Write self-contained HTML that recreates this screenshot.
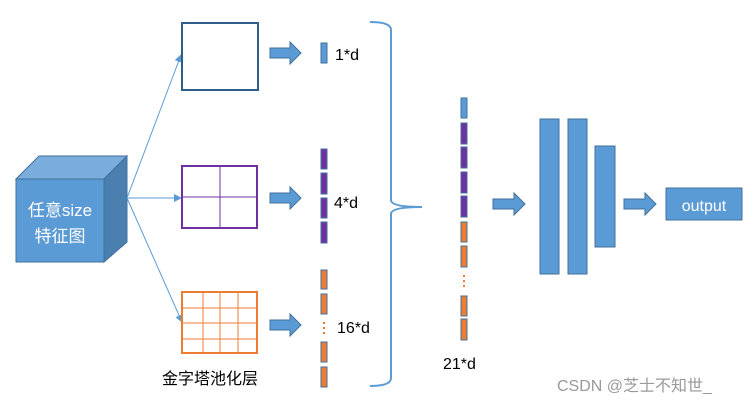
<!DOCTYPE html>
<html><head><meta charset="utf-8"><style>
html,body{margin:0;padding:0;background:#fff;}
svg{display:block;font-family:"Liberation Sans","Noto Sans CJK SC",sans-serif;}
</style></head><body>
<svg width="754" height="403" viewBox="0 0 754 403" xmlns="http://www.w3.org/2000/svg">
<defs>
<marker id="ah" markerWidth="8" markerHeight="8" refX="7" refY="4" orient="auto" markerUnits="userSpaceOnUse">
<path d="M0,0 L8,4 L0,8 z" fill="#5b9bd5"/></marker>
</defs>
<!-- cube -->
<polygon points="16,179 39,156 127,156 104,179" fill="#7aacdc" stroke="#41719c" stroke-width="1"/>
<polygon points="104,179 127,156 127,242 104,262" fill="#4a7fb0" stroke="#41719c" stroke-width="1"/>
<rect x="16" y="179" width="88" height="83" fill="#5b9bd5" stroke="#41719c" stroke-width="1"/>
<text x="60" y="216" font-size="17" fill="#fff" text-anchor="middle">任意size</text>
<text x="60" y="242" font-size="17" fill="#fff" text-anchor="middle">特征图</text>
<!-- connectors -->
<line x1="127" y1="198" x2="181" y2="55" stroke="#5b9bd5" stroke-width="1" marker-end="url(#ah)"/>
<line x1="127" y1="198" x2="181" y2="198" stroke="#5b9bd5" stroke-width="1" marker-end="url(#ah)"/>
<line x1="127" y1="198" x2="182" y2="322" stroke="#5b9bd5" stroke-width="1" marker-end="url(#ah)"/>
<!-- boxes -->
<rect x="182" y="23" width="76" height="67" fill="#fff" stroke="#2e5f8a" stroke-width="2"/>
<rect x="182" y="166" width="75" height="62" fill="#fff" stroke="#7030a0" stroke-width="2"/>
<line x1="220" y1="166" x2="220" y2="228" stroke="#7030a0" stroke-width="1"/>
<line x1="182" y1="197" x2="257" y2="197" stroke="#7030a0" stroke-width="1"/>
<rect x="182" y="292" width="75" height="61" fill="#fff" stroke="#ed7d31" stroke-width="2"/>
<g stroke="#ed7d31" stroke-width="1">
<line x1="203" y1="292" x2="203" y2="353"/><line x1="220" y1="292" x2="220" y2="353"/><line x1="238" y1="292" x2="238" y2="353"/>
<line x1="182" y1="308" x2="257" y2="308"/><line x1="182" y1="323" x2="257" y2="323"/><line x1="182" y1="339" x2="257" y2="339"/>
</g>
<text x="162" y="384" font-size="16" fill="#000">金字塔池化层</text>
<!-- block arrows -->
<g fill="#5b9bd5" stroke="#41719c" stroke-width="1">
<polygon points="270,48 290,48 290,42 301,53 290,64 290,58 270,58"/>
<polygon points="270,193 290,193 290,187 301,198 290,209 290,203 270,203"/>
<polygon points="270,320 290,320 290,314 301,325 290,336 290,330 270,330"/>
<polygon points="493,199 514,199 514,193 525,204 514,215 514,209 493,209"/>
<polygon points="624,199 645,199 645,193 656,204 645,215 645,209 624,209"/>
</g>
<!-- vectors left -->
<g stroke="#41719c" stroke-width="1">
<rect x="321" y="43" width="6" height="20" fill="#5b9bd5"/>
<rect x="321" y="149" width="6" height="20" fill="#7030a0"/>
<rect x="321" y="173" width="6" height="21" fill="#7030a0"/>
<rect x="321" y="198" width="6" height="20" fill="#7030a0"/>
<rect x="321" y="222" width="6" height="21" fill="#7030a0"/>
<rect x="321" y="270" width="6" height="19" fill="#ed7d31"/>
<rect x="321" y="294" width="6" height="20" fill="#ed7d31"/>
<rect x="321" y="342" width="6" height="20" fill="#ed7d31"/>
<rect x="321" y="367" width="6" height="20" fill="#ed7d31"/>
</g>
<line x1="324" y1="322" x2="324" y2="336" stroke="#ed7d31" stroke-width="2" stroke-dasharray="2,3"/>
<text x="335" y="60" font-size="16" fill="#000">1*d</text>
<text x="334" y="208" font-size="16" fill="#000">4*d</text>
<text x="337" y="333" font-size="16" fill="#000">16*d</text>
<!-- brace -->
<path d="M370,22 Q391,22 391,30 L391,200 Q391,207 422,207 Q391,207 391,214 L391,378 Q391,386 370,386" fill="none" stroke="#5b9bd5" stroke-width="2"/>
<!-- vectors middle -->
<g stroke="#41719c" stroke-width="1">
<rect x="461" y="98" width="6" height="20" fill="#5b9bd5"/>
<rect x="461" y="123" width="6" height="21" fill="#7030a0"/>
<rect x="461" y="147" width="6" height="21" fill="#7030a0"/>
<rect x="461" y="172" width="6" height="21" fill="#7030a0"/>
<rect x="461" y="196" width="6" height="21" fill="#7030a0"/>
<rect x="461" y="222" width="6" height="20" fill="#ed7d31"/>
<rect x="461" y="246" width="6" height="21" fill="#ed7d31"/>
<rect x="461" y="296" width="6" height="20" fill="#ed7d31"/>
<rect x="461" y="319" width="6" height="21" fill="#ed7d31"/>
</g>
<line x1="464" y1="275" x2="464" y2="288" stroke="#ed7d31" stroke-width="2" stroke-dasharray="2,3"/>
<text x="443" y="369" font-size="16" fill="#000">21*d</text>
<!-- FC bars -->
<g fill="#5b9bd5" stroke="#41719c" stroke-width="1">
<rect x="540" y="119" width="19" height="155"/>
<rect x="568" y="119" width="19" height="155"/>
<rect x="595" y="146" width="20" height="101"/>
<rect x="666" y="188" width="76" height="32"/>
</g>
<text x="704" y="211" font-size="16" fill="#fff" text-anchor="middle">output</text>
<text x="557" y="391" font-size="16" fill="#999">CSDN @芝士不知世_</text>
</svg>
</body></html>
